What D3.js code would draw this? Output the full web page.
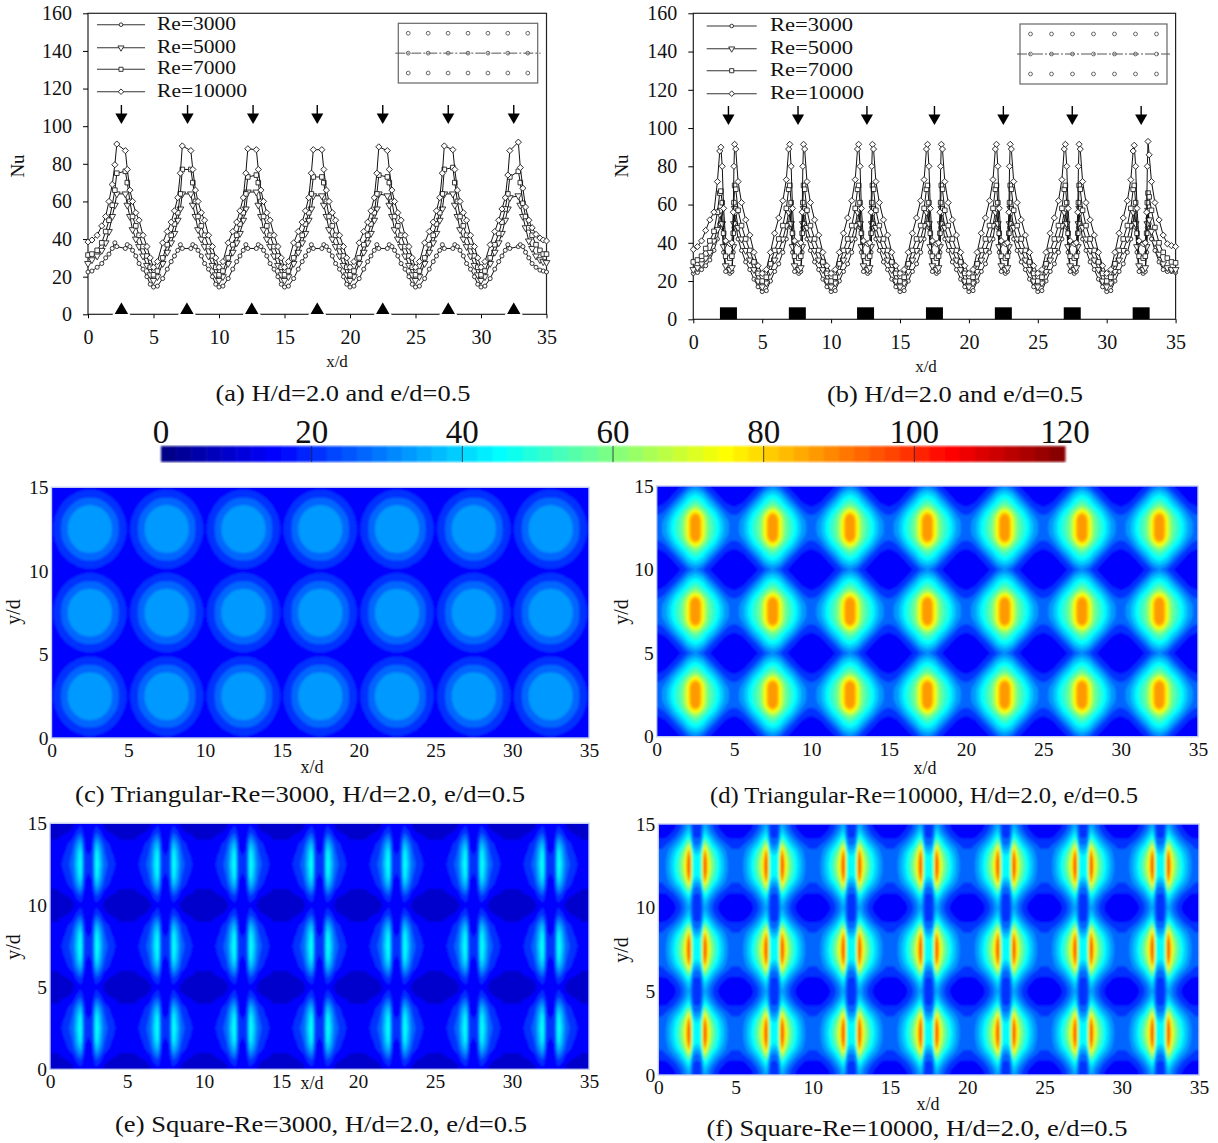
<!DOCTYPE html>
<html>
<head>
<meta charset="utf-8">
<script src="https://cdn.jsdelivr.net/npm/d3@7"></script>
<style>
  html, body { margin: 0; padding: 0; background: #fff; }
  text { font-family: "Liberation Serif", "Times New Roman", serif; fill: #111; }
</style>
</head>
<body>
<svg id="fig" width="1218" height="1143"></svg>
<script>
// ---- line plots: Nu along the centre line ----
const seriesNames = ['Re=3000', 'Re=5000', 'Re=7000', 'Re=10000'];
const modules = [0, 1, 2, 3, 4, 5, 6];
const ribCentres = [2.55, 7.55, 12.5, 17.5, 22.5, 27.5, 32.5];
const arrowCentres = [2.55, 7.6, 12.6, 17.5, 22.5, 27.5, 32.5];

// triangular ribs, stations inside one 5 d module
const stationsA = [0, .3, .7, 1.05, 1.35, 1.6, 1.85, 2.05, 2.2, 2.85, 3.0, 3.2, 3.4, 3.65, 3.9, 4.2, 4.5, 4.75];
const a3000First = [22.5, 23, 25, 27, 30, 32, 35, 38, 36, 35, 37, 36, 34, 31, 27, 24, 20, 16];
const a3000Mid = [14.5, 15, 19, 24, 28, 31, 34, 37, 35, 35, 37, 36, 34, 31, 27, 24, 20, 16];
const a3000Last = [14.5, 15, 19, 24, 28, 31, 34, 37, 35, 36, 37, 36, 33, 30, 27, 25, 23.5, 23];
const a5000First = [27, 29, 31, 34, 38, 44, 52, 58, 64, 64, 58, 52, 45, 40, 36, 31, 26, 21];
const a5000Mid = [18, 20, 27, 33, 38, 43, 50, 56, 64, 64, 58, 52, 45, 40, 36, 31, 26, 21];
const a5000Last = [18, 20, 27, 33, 38, 43, 50, 56, 62, 63, 58, 52, 46, 39, 35, 31, 29, 28];
const a7000First = [31.5, 32, 34, 38, 44, 50, 58, 66, 75, 76, 70, 60, 52, 47, 42, 36, 31, 25];
const a7000Mid = [21, 23, 30, 37, 42, 48, 54, 64, 77, 77, 70, 60, 52, 47, 42, 36, 31, 25];
const a7000Last = [21, 23, 30, 37, 43, 49, 56, 64, 73, 76, 70, 59, 52, 46, 42, 37, 34, 32];
const a10000First = [38.5, 39.5, 42, 47, 52, 60, 69, 79.5, 90.5, 87, 77, 66, 60, 54, 50, 42, 36, 30];
const a10000Mid = [25, 28, 38, 44, 49, 55, 62, 75, 89.5, 87, 77, 66, 60, 54, 50, 42, 36, 30];
const a10000Last = [25, 28, 37, 44, 50, 56, 62, 74, 87, 91.5, 78, 67, 57, 50, 46, 42.5, 40.5, 39.5];
const aEnds = [22.5, 27.5, 32, 39];
// crest pairs of each module, they differ a little along the channel
const a5000Crests = [[64, 64], [64, 64], [65, 65], [63, 63], [64, 63], [64, 64], [62, 63]];
const a7000Crests = [[75, 76], [77, 77], [73, 74], [73, 73], [74, 73], [77, 78], [73, 76]];
const a10000Crests = [[90.5, 87], [89.5, 87], [88, 87.5], [87.5, 87.5], [89, 87], [89.5, 87.5], [87, 91.5]];

// square ribs
const stationsB = [0, .3, .6, .9, 1.2, 1.5, 1.75, 1.92, 2.0, 2.1, 2.2, 2.35, 2.65, 2.8, 2.9, 2.95, 3.0, 3.08, 3.25, 3.5, 3.8, 4.1, 4.4, 4.7];
const b3000First = [24, 24.5, 26, 28, 31, 36, 42, 50, 55, 48, 35, 25, 24, 25, 35, 48, 56, 50, 42, 36, 30, 26, 21, 17];
const b3000Mid = [14.5, 15, 20, 25, 29, 35, 42, 50, 56, 48, 35, 25, 24, 25, 35, 48, 56, 50, 42, 36, 30, 26, 21, 17];
const b3000Last = [14.5, 15, 20, 25, 29, 35, 42, 50, 56, 48, 35, 25, 24, 25, 35, 48, 56, 50, 42, 36, 30, 26, 25, 25];
const b5000First = [26, 27, 29, 32, 35, 41, 47, 55, 57, 50, 38, 28, 26, 27, 38, 50, 58, 56, 48, 42, 36, 31, 26, 20];
const b5000Mid = [17, 19, 25, 31, 36, 42, 49, 56, 58, 50, 38, 28, 26, 27, 38, 50, 58, 56, 48, 42, 36, 31, 26, 20];
const b5000Last = [17, 19, 25, 31, 36, 42, 49, 56, 58, 50, 38, 28, 26, 27, 38, 50, 57, 52, 46, 40, 34, 29, 27, 26];
const b7000First = [30, 31, 33, 37, 41, 46, 56, 66, 67, 61, 45, 33, 32, 33, 45, 61, 70, 68, 57, 49, 42, 36, 30, 24];
const b7000Mid = [20, 22, 29, 36, 42, 49, 58, 68, 70, 61, 45, 33, 32, 33, 45, 61, 70, 68, 57, 49, 42, 36, 30, 24];
const b7000Last = [20, 22, 29, 36, 42, 49, 58, 68, 70, 61, 45, 33, 32, 33, 45, 61, 66, 64, 57, 48, 40, 35, 32, 30];
const b10000First = [36.5, 38, 41, 46.5, 52, 56, 72, 88, 90, 80, 58, 41, 39.5, 40, 56, 80, 91.5, 89, 72, 61, 52, 44, 35, 28];
const b10000Mid = [24, 26, 35, 45, 53, 62, 73, 89, 91.5, 80, 58, 41, 39.5, 40, 56, 80, 91.5, 89, 72, 61, 52, 44, 35, 28];
const b10000Last = [24, 26, 35, 45, 53, 62, 73, 88, 91, 80, 58, 41, 39.5, 40, 56, 80, 93, 86, 72, 61, 52, 44, 39.5, 38.5];
const bEnds = [24.5, 26, 29.5, 38];

const nuTicks = [0, 20, 40, 60, 80, 100, 120, 140, 160];
const xdTicks = [0, 5, 10, 15, 20, 25, 30, 35];
const ydTicks = [0, 5, 10, 15];

// ---- contour maps: one quarter of a jet cell (x 0..2.5, y 0..2.5, step 0.25 d) ----
const cellC = [
  [14, 14, 14.5, 15, 15, 15.5, 16, 16, 16.5, 17, 17],
  [14, 14.5, 15, 15.5, 16, 16.5, 17, 18, 18.5, 19, 19],
  [14.5, 15, 15.5, 16, 17, 18, 19, 20.5, 22, 22.5, 22.5],
  [15, 15, 16, 17, 18.5, 20.5, 22.5, 24, 25, 25.5, 25.5],
  [15, 16, 17, 18.5, 21, 23, 25, 27, 28, 28.5, 29],
  [15.5, 16.5, 18, 20.5, 23, 25.5, 27.5, 30, 31.5, 32.5, 33],
  [16, 17, 19, 22.5, 25, 27.5, 30.5, 33, 34.5, 35, 35],
  [16.5, 18, 20.5, 24, 27, 30, 33, 35, 35.5, 35.5, 35.5],
  [16.5, 18.5, 22, 25, 28, 31.5, 34, 35.5, 35.5, 35.5, 35.5],
  [17, 19, 22, 25.5, 29, 32.5, 35, 35.5, 35.5, 35.5, 35.5],
  [17, 19, 22.5, 25.5, 29, 33, 35, 35.5, 35.5, 35.5, 35.5]
];
const cellD = [
  [16, 16, 16, 16, 16.5, 17, 17.5, 19, 24, 28, 30],
  [16, 16, 16, 16.5, 17, 17.5, 19, 24, 30, 34, 36],
  [16, 16, 16.5, 17, 17.5, 19, 24, 30, 37, 40, 42],
  [16, 16.5, 17, 17.5, 19, 24, 30, 36, 42, 46, 48],
  [17, 17, 17.5, 19, 24, 30, 36, 41, 46, 51, 54],
  [18, 18.5, 20, 24, 30, 36, 41, 46, 52, 58, 62],
  [20, 21, 24, 29, 35, 41, 46, 52, 60, 70, 76],
  [24, 25, 28, 33, 39, 45, 50, 57, 68, 82, 87],
  [27, 28, 31, 36, 42, 48, 53, 60, 73, 87, 89],
  [28, 29, 32, 38, 44, 49, 54, 61, 74, 87, 89],
  [28, 29, 32, 38, 44, 50, 55, 61, 74, 87, 89]
];
const cellE = [
  [10, 10, 10, 10, 10, 11, 11, 14, 17, 13, 12],
  [10, 10, 10, 10, 10, 11, 12, 16, 19, 13, 12],
  [10, 10, 10, 11, 11, 12, 14, 19, 22, 14, 13],
  [11, 11, 11, 12, 13, 14, 16, 23, 27, 15, 14],
  [12, 12, 12, 13, 14, 16, 19, 27, 33, 16, 15],
  [13, 13, 13, 14, 16, 19, 22, 31, 38, 18, 16],
  [13, 13, 14, 15, 17, 20, 24, 34, 42, 18, 17],
  [14, 14, 15, 16, 18, 21, 25, 36, 45, 19, 17],
  [14, 14, 15, 17, 19, 22, 26, 37, 47, 19, 18],
  [15, 15, 16, 17, 20, 23, 27, 38, 48, 20, 18],
  [15, 15, 16, 18, 20, 24, 28, 39, 49, 20, 18]
];
const cellF = [
  [17, 17, 16, 16, 16, 19, 24, 30, 36, 22, 21],
  [17, 17, 16, 16, 17, 20, 25, 31, 38, 22, 21],
  [17, 17, 17, 17, 19, 23, 28, 35, 42, 23, 22],
  [17, 17, 17, 19, 22, 27, 33, 40, 48, 24, 23],
  [19, 19, 20, 23, 27, 32, 38, 46, 58, 27, 25],
  [22, 22, 24, 27, 32, 37, 43, 53, 70, 32, 29],
  [24, 24, 26, 31, 36, 42, 49, 60, 82, 38, 34],
  [25, 26, 28, 33, 39, 46, 54, 66, 92, 44, 40],
  [26, 26, 29, 35, 41, 48, 57, 70, 98, 47, 43],
  [26, 27, 30, 36, 42, 50, 59, 73, 100, 48, 44],
  [26, 27, 30, 36, 43, 50, 60, 74, 100, 48, 44]
];

const barTicks = [0, 20, 40, 60, 80, 100, 120];
const jetStops = [0, 15, 45, 75, 105, 120];
const jetColors = ['#00007f', '#0000ff', '#00ffff', '#ffff00', '#ff0000', '#7f0000'];
const levels = d3.range(0, 120, 6);
const barLevels = d3.range(0, 120, 2);

const color = d3.scaleLinear().domain(jetStops).range(jetColors);
const svg = d3.select('#fig');

// soft edge, the reference is a resampled bitmap
const defs = svg.append('defs');
defs.append('filter').attr('id', 'soft')
  .attr('x', '-2%').attr('y', '-2%').attr('width', '104%').attr('height', '104%')
  .append('feGaussianBlur').attr('stdDeviation', 0.8);

function buildSeries(stations, first, mid, last, end, crests) {
  const rows = modules.map(m => {
    const row = (m === 0 ? first : m === 6 ? last : mid).slice();
    if (crests) { row[8] = crests[m][0]; row[9] = crests[m][1]; }
    return row;
  });
  const pts = [];
  modules.forEach(m => stations.forEach((s, i) => pts.push([m * 5 + s, rows[m][i]])));
  pts.push([35, end]);
  return pts;
}

const sym = d3.symbol();
function marker(sel, i, k) {
  // circle, down triangle, square, diamond
  const types = [d3.symbolCircle, d3.symbolTriangle, d3.symbolSquare, d3.symbolSquare];
  const sizes = [13, 20, 21, 19];
  const rot = [0, 180, 0, 45];
  sel.attr('d', sym.type(types[i]).size(sizes[i] * k))
    .attr('fill', '#fff').attr('stroke', '#222').attr('stroke-width', 0.9)
    .attr('data-rot', rot[i]);
}

function linePlot(cfg) {
  const g = svg.append('g');
  const x = d3.scaleLinear().domain([0, 35]).range(cfg.xr);
  const y = d3.scaleLinear().domain([0, 160]).range(cfg.yr);

  g.append('rect').attr('x', cfg.xr[0]).attr('y', cfg.yr[1])
    .attr('width', cfg.xr[1] - cfg.xr[0]).attr('height', cfg.yr[0] - cfg.yr[1])
    .attr('fill', 'none').attr('stroke', '#222').attr('stroke-width', 1.2);

  const ax = g.append('g').attr('transform', `translate(0,${cfg.yr[0]})`)
    .call(d3.axisBottom(x).tickValues(xdTicks).tickSize(4).tickPadding(cfg.xPad).tickFormat(d3.format('d')));
  const ay = g.append('g').attr('transform', `translate(${cfg.xr[0]},0)`)
    .call(d3.axisLeft(y).tickValues(nuTicks).tickSize(5).tickPadding(11).tickFormat(d3.format('d')));
  [ax, ay].forEach(a => {
    a.select('.domain').remove();
    a.selectAll('text').style('font-family', '"Liberation Serif"').style('font-size', '20px').attr('fill', '#111');
  });

  // lines and markers
  const line = d3.line().x(d => x(d[0])).y(d => y(d[1]));
  cfg.series.forEach((pts, i) => {
    g.append('path').attr('d', line(pts)).attr('fill', 'none').attr('stroke', '#111').attr('stroke-width', 1);
    g.selectAll(null).data(pts).join('path').call(marker, i, 1)
      .attr('transform', function (d) {
        return `translate(${x(d[0])},${y(d[1])}) rotate(${this.getAttribute('data-rot')})`;
      });
  });

  // legend
  seriesNames.forEach((name, i) => {
    const ly = cfg.legendY[i];
    g.append('line').attr('x1', cfg.legendX[0]).attr('x2', cfg.legendX[1]).attr('y1', ly).attr('y2', ly)
      .attr('stroke', '#333').attr('stroke-width', 1.1);
    g.append('path').call(marker, i, 0.8)
      .attr('transform', function () {
        return `translate(${(cfg.legendX[0] + cfg.legendX[1]) / 2},${ly}) rotate(${this.getAttribute('data-rot')})`;
      });
    g.append('text').attr('x', cfg.legendX[2]).attr('y', ly + 5).attr('font-size', 18.5)
      .attr('textLength', cfg.legendWidth[i]).attr('lengthAdjust', 'spacingAndGlyphs').text(name);
  });

  // flow arrows
  arrowCentres.forEach(c => {
    g.append('line').attr('x1', x(c)).attr('x2', x(c)).attr('y1', cfg.arrowY).attr('y2', cfg.arrowY + 11)
      .attr('stroke', '#000').attr('stroke-width', 1.4);
    g.append('path').attr('d', sym.type(d3.symbolTriangle).size(64))
      .attr('transform', `translate(${x(c)},${cfg.arrowY + 12}) rotate(180)`).attr('fill', '#000');
  });

  // rib sections on the wall
  ribCentres.forEach(c => {
    if (cfg.rib === 'triangle') {
      g.append('path').attr('d', sym.type(d3.symbolTriangle).size(110))
        .attr('transform', `translate(${x(c)},${y(0) - 4.2})`)
        .attr('fill', '#000').attr('stroke', '#fff').attr('stroke-width', 1.5);
    } else {
      g.append('rect').attr('x', x(c) - 8.5).attr('y', y(0) - 12).attr('width', 17).attr('height', 12).attr('fill', '#000');
    }
  });

  // small sketch of the jet plate
  const ix = d3.scaleLinear().domain([0, 35]).range(cfg.insetX);
  const iy = d3.scaleLinear().domain([0, 15]).range(cfg.insetY);
  g.append('rect').attr('x', cfg.insetX[0]).attr('y', cfg.insetY[1])
    .attr('width', cfg.insetX[1] - cfg.insetX[0]).attr('height', cfg.insetY[0] - cfg.insetY[1])
    .attr('fill', 'none').attr('stroke', '#666').attr('stroke-width', 1.2);
  g.append('line').attr('x1', cfg.insetX[0] - 3).attr('x2', cfg.insetX[1] + 3)
    .attr('y1', iy(7.5)).attr('y2', iy(7.5)).attr('stroke', '#555').attr('stroke-dasharray', '10 2 2 2');
  modules.forEach(m => [2.5, 7.5, 12.5].forEach(r => {
    g.append('circle').attr('cx', ix(m * 5 + 2.5)).attr('cy', iy(r)).attr('r', 1.9)
      .attr('fill', 'none').attr('stroke', '#666').attr('stroke-width', 1);
  }));

  g.append('text').attr('transform', `translate(${cfg.nuPos[0]},${cfg.nuPos[1]}) rotate(-90)`)
    .attr('text-anchor', 'middle').attr('font-size', 19).text('Nu');
  g.append('text').attr('x', cfg.xdPos[0]).attr('y', cfg.xdPos[1])
    .attr('text-anchor', 'middle').attr('font-size', 17).text('x/d');
}

function tileCell(cell) {
  // mirror the quarter cell to a full one, then lay it out 7 x 3
  const n = cell.length - 1;
  const at = i => { const k = i % (2 * n); return k > n ? 2 * n - k : k; };
  const nx = 14 * n + 1, ny = 6 * n + 1;
  const vals = new Array(nx * ny);
  for (let j = 0; j < ny; j++) {
    for (let i = 0; i < nx; i++) vals[j * nx + i] = cell[at(j)][at(i)];
  }
  return { nx, ny, vals, step: 2.5 / n };
}

let clipId = 0;
function contourMap(cfg) {
  const g = svg.append('g');
  const x = d3.scaleLinear().domain([0, 35]).range(cfg.xr);
  const y = d3.scaleLinear().domain([0, 15]).range(cfg.yr);
  const grid = tileCell(cfg.cell);

  const id = 'clip' + (clipId++);
  defs.append('clipPath').attr('id', id).append('rect')
    .attr('x', cfg.xr[0]).attr('y', cfg.yr[1])
    .attr('width', cfg.xr[1] - cfg.xr[0]).attr('height', cfg.yr[0] - cfg.yr[1]);

  const contours = d3.contours().size([grid.nx, grid.ny]).thresholds(levels)(grid.vals);
  const toPx = d3.geoTransform({
    point(px, py) { this.stream.point(x((px - 0.5) * grid.step), y((py - 0.5) * grid.step)); }
  });
  const path = d3.geoPath(toPx);

  g.append('g').attr('clip-path', `url(#${id})`).append('g').attr('filter', 'url(#soft)')
    .selectAll('path').data(contours).join('path')
    .attr('d', path).attr('fill', d => color(d.value + 3));

  g.append('rect').attr('x', cfg.xr[0]).attr('y', cfg.yr[1])
    .attr('width', cfg.xr[1] - cfg.xr[0]).attr('height', cfg.yr[0] - cfg.yr[1])
    .attr('fill', 'none').attr('stroke', '#c4cdf2').attr('stroke-width', 1.4);

  const ax = g.append('g').attr('transform', `translate(0,${cfg.yr[0]})`)
    .call(d3.axisBottom(x).tickValues(xdTicks).tickSize(0).tickPadding(5).tickFormat(d3.format('d')));
  const ay = g.append('g').attr('transform', `translate(${cfg.xr[0]},0)`)
    .call(d3.axisLeft(y).tickValues(ydTicks).tickSize(0).tickPadding(3).tickFormat(d3.format('d')));
  [ax, ay].forEach(a => {
    a.select('.domain').remove();
    a.selectAll('text').style('font-family', '"Liberation Serif"').style('font-size', '19.5px').attr('fill', '#111');
  });

  g.append('text').attr('transform', `translate(${cfg.ydPos[0]},${cfg.ydPos[1]}) rotate(-90)`)
    .attr('text-anchor', 'middle').attr('font-size', 20).text('y/d');
  g.append('text').attr('x', cfg.xdPos[0]).attr('y', cfg.xdPos[1])
    .attr('text-anchor', 'middle').attr('font-size', 18).text('x/d');
}

linePlot({
  xr: [88, 546.5], yr: [314.3, 13.3], xPad: 12,
  series: [
    buildSeries(stationsA, a3000First, a3000Mid, a3000Last, aEnds[0]),
    buildSeries(stationsA, a5000First, a5000Mid, a5000Last, aEnds[1], a5000Crests),
    buildSeries(stationsA, a7000First, a7000Mid, a7000Last, aEnds[2], a7000Crests),
    buildSeries(stationsA, a10000First, a10000Mid, a10000Last, aEnds[3], a10000Crests)
  ],
  legendX: [97, 145, 157], legendY: [24.7, 47.7, 69.3, 91.7], legendWidth: [79, 79, 79, 90],
  arrowY: 105, rib: 'triangle',
  insetX: [398.3, 537.7], insetY: [83, 23.3],
  nuPos: [24, 166], xdPos: [337, 367]
});
linePlot({
  xr: [693.3, 1175.6], yr: [319.3, 13.3], xPad: 12,
  series: [
    buildSeries(stationsB, b3000First, b3000Mid, b3000Last, bEnds[0]),
    buildSeries(stationsB, b5000First, b5000Mid, b5000Last, bEnds[1]),
    buildSeries(stationsB, b7000First, b7000Mid, b7000Last, bEnds[2]),
    buildSeries(stationsB, b10000First, b10000Mid, b10000Last, bEnds[3])
  ],
  legendX: [706.7, 756.7, 770], legendY: [26, 48.7, 70.7, 93.7], legendWidth: [83, 83, 83, 94],
  arrowY: 106, rib: 'square',
  insetX: [1020, 1167], insetY: [84, 24],
  nuPos: [628, 166], xdPos: [926, 372]
});

// colour bar
const bx = d3.scaleLinear().domain([0, 120]).range([161, 1065]);
const bar = svg.append('g');
bar.append('g').attr('filter', 'url(#soft)').selectAll('rect').data(barLevels).join('rect')
  .attr('x', d => bx(d)).attr('y', 446).attr('width', d => bx(d + 2) - bx(d) + 0.5).attr('height', 16)
  .attr('fill', d => color(d + 1));
bar.selectAll('line').data(barTicks.slice(1, -1)).join('line')
  .attr('x1', d => bx(d)).attr('x2', d => bx(d)).attr('y1', 446).attr('y2', 462)
  .attr('stroke', '#223').attr('stroke-width', 0.8);
bar.selectAll('text').data(barTicks).join('text')
  .attr('x', d => bx(d)).attr('y', 443).attr('text-anchor', 'middle').attr('font-size', 33).text(d => d);

contourMap({ cell: cellC, xr: [51.5, 589], yr: [738, 487.3], ydPos: [20, 612], xdPos: [312, 773] });
contourMap({ cell: cellD, xr: [656.7, 1198], yr: [736.7, 486], ydPos: [628, 612], xdPos: [925, 774] });
contourMap({ cell: cellE, xr: [50, 589], yr: [1069.3, 823.3], ydPos: [20, 947], xdPos: [312, 1089] });
contourMap({ cell: cellF, xr: [658.3, 1199], yr: [1075, 824], ydPos: [628, 950], xdPos: [928, 1110] });

// captions: text, centre x, baseline, width on the page
const captions = [
  ['(a) H/d=2.0 and e/d=0.5', 343, 401, 255],
  ['(b) H/d=2.0 and e/d=0.5', 955, 402, 256],
  ['(c) Triangular-Re=3000, H/d=2.0, e/d=0.5', 300, 802, 450],
  ['(d) Triangular-Re=10000, H/d=2.0, e/d=0.5', 924, 803, 428],
  ['(e) Square-Re=3000, H/d=2.0, e/d=0.5', 321, 1132, 412],
  ['(f) Square-Re=10000, H/d=2.0, e/d=0.5', 917, 1136, 421]
];
svg.append('g').selectAll('text').data(captions).join('text')
  .attr('x', d => d[1]).attr('y', d => d[2]).attr('text-anchor', 'middle').attr('font-size', 23)
  .attr('textLength', d => d[3]).attr('lengthAdjust', 'spacingAndGlyphs').text(d => d[0]);
</script>
</body>
</html>
